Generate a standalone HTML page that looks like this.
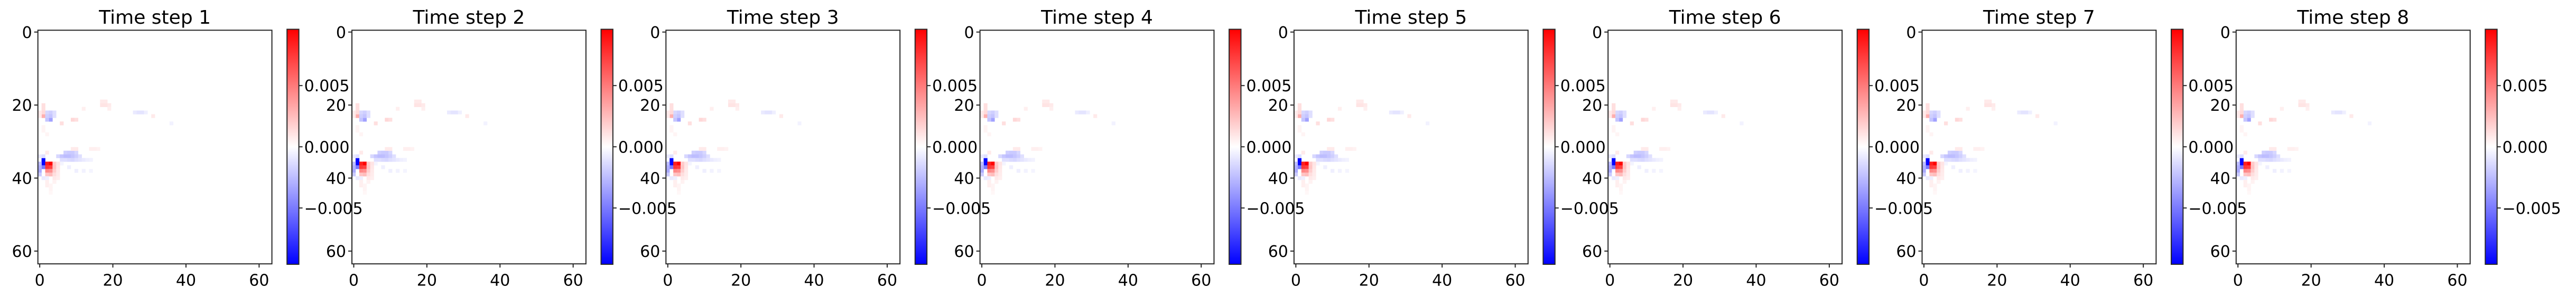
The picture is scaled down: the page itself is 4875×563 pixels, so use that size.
<!DOCTYPE html>
<html><head><meta charset="utf-8"><style>
html,body{margin:0;padding:0;background:#fff;}
svg{display:block;font-family:"DejaVu Sans","Liberation Sans",sans-serif;}
</style></head><body>
<svg id="fig" width="4875" height="563" viewBox="0 0 4875 563" xmlns="http://www.w3.org/2000/svg">
<defs>
<linearGradient id="bwr" x1="0" y1="0" x2="0" y2="1">
<stop offset="0" stop-color="#ff0000"/><stop offset="0.5" stop-color="#ffffff"/><stop offset="1" stop-color="#0000ff"/>
</linearGradient>
</defs>
<g id="marks"></g>
<g id="labels"></g>
</svg>
<script>
// ---- data ----
const stepTitles = ["Time step 1","Time step 2","Time step 3","Time step 4","Time step 5","Time step 6","Time step 7","Time step 8"];
const gridSize = 64;
const vmax = 0.0096;
const axisTicks = [0, 20, 40, 60];
const cbarTicks = [0.005, 0.0, -0.005];
const cbarTickLabels = ["0.005", "0.000", "\u22120.005"];
// sparse non-zero cells: row, col, value (shared by all steps)
const cellRows = [35,36,37,36,36,37,37,38,38,39,39,36,37,38,39,36,37,38,39,34,33,33,33,33,34,34,34,34,34,34,34,35,35,35,35,35,35,35,35,35,32,32,32,32,32,23,24,22,22,22,23,23,23,24,20,21,22,22,23,24,24,25,19,19,20,20,20,21,22,22,22,22,23,40,40,41,42,40,41,33,34,36,37,38,38,38,21,26,27,28,25,36,37,38,39,40,41,42,43,44];
const cellCols = [1,1,1,3,2,2,3,2,3,2,3,4,4,4,4,0,0,0,0,1,7,8,9,10,5,6,7,8,9,10,11,6,7,8,9,10,11,12,13,14,9,10,14,15,16,1,3,2,3,4,2,3,4,2,1,1,1,0,0,9,10,6,17,18,17,18,19,19,26,27,28,29,31,1,2,2,2,4,4,2,0,6,8,10,12,14,12,1,1,2,36,5,5,5,5,5,4,3,3,3];
const cellVals = [-0.0094,-0.0094,-0.005,0.0096,0.0085,0.0075,0.0072,0.0045,0.0042,0.0022,0.0025,0.002,0.0022,0.0018,0.0012,-0.0025,-0.003,-0.0032,-0.002,-0.0012,-0.0018,-0.002,-0.002,-0.0015,-0.0015,-0.0022,-0.0025,-0.0025,-0.0022,-0.0018,-0.0012,-0.0012,-0.0012,-0.0014,-0.0015,-0.0012,-0.001,-0.0008,-0.0006,-0.0005,0.0008,0.0008,0.0006,0.0006,0.0005,0.003,-0.0035,-0.0015,-0.0018,-0.0012,-0.0018,-0.0022,-0.0012,-0.0022,0.0012,0.0012,0.0014,0.0008,0.0008,0.0015,0.0012,0.0012,0.0008,0.0008,0.001,0.001,0.0008,0.0006,-0.0008,-0.001,-0.001,-0.0006,0.0008,-0.0008,-0.0006,0.0006,0.0006,0.0008,0.0006,0.0008,-0.0008,-0.0004,-0.0006,-0.0006,-0.0005,-0.0004,0.0006,0.0004,0.0004,0.0004,-0.0005,0.001,0.0009,0.0008,0.0007,0.0006,0.0005,0.0004,0.0004,0.0003];

// ---- layout ----
const NS = "http://www.w3.org/2000/svg";
const marks = document.getElementById("marks");
const labels = document.getElementById("labels");
const panelLeft0 = 71.7, panelStep = 594.3, axTop = 57.3, cell = 6.92;
const axSize = cell * gridSize;
const cbGap = 28.6, cbW = 22.4, cbTop = 55.5, cbBot = 501;

function mk(tag, attrs, parent) {
  const e = document.createElementNS(NS, tag);
  for (const k in attrs) e.setAttribute(k, attrs[k]);
  parent.appendChild(e);
  return e;
}
function bwr(v) {
  let t = (v + vmax) / (2 * vmax);
  t = Math.max(0, Math.min(1, t));
  let r, g, b;
  if (t < 0.5) { r = 2 * t; g = 2 * t; b = 1; } else { r = 1; g = 2 * (1 - t); b = 2 * (1 - t); }
  return `rgb(${Math.round(r*255)},${Math.round(g*255)},${Math.round(b*255)})`;
}

stepTitles.forEach((title, p) => {
  const L = panelLeft0 + p * panelStep;
  const xPos = c => L + c * cell;
  const yPos = r => axTop + r * cell;
  const g = mk("g", {}, marks);
  
  
  const tg = mk("g", {}, labels);
  
  

  const bg = mk("rect", {x: L, y: axTop, width: axSize, height: axSize, fill: bwr(0)}, g);
  
  

  for (let i = 0; i < cellVals.length; i++) {
    const rc = mk("rect", {x: xPos(cellCols[i]), y: yPos(cellRows[i]), width: cell + 0.3, height: cell + 0.3, fill: bwr(cellVals[i])}, g);
    
    
  }

  const frame = mk("rect", {x: L, y: axTop, width: axSize, height: axSize, fill: "none", stroke: "#262626", "stroke-width": 2}, g);
  
  

  const tt = mk("text", {x: L + axSize / 2, y: 45, "font-size": 36, "text-anchor": "middle", fill: "#000"}, tg);
  tt.textContent = title;
  
  

  axisTicks.forEach(t => {
    const cy = yPos(t) + cell / 2;
    mk("line", {x1: L - 7, x2: L, y1: cy, y2: cy, stroke: "#262626", "stroke-width": 2}, g);
    const yl = mk("text", {x: L - 11, y: cy + 11, "font-size": 30, "text-anchor": "end", fill: "#000"}, tg);
    yl.textContent = t;
    
    
    const cx = xPos(t) + cell / 2;
    mk("line", {x1: cx, x2: cx, y1: axTop + axSize, y2: axTop + axSize + 7, stroke: "#262626", "stroke-width": 2}, g);
    const xl = mk("text", {x: cx, y: 541.5, "font-size": 30, "text-anchor": "middle", fill: "#000"}, tg);
    xl.textContent = t;
    
    
  });

  // colorbar
  const cbX = L + axSize + cbGap;
  const cb = mk("rect", {x: cbX, y: cbTop, width: cbW, height: cbBot - cbTop, fill: "url(#bwr)", stroke: "#262626", "stroke-width": 2}, g);
  
  
  const mid = (cbTop + cbBot) / 2, half = (cbBot - cbTop) / 2;
  cbarTicks.forEach((v, i) => {
    const cy = mid - v / vmax * half;
    mk("line", {x1: cbX + cbW, x2: cbX + cbW + 7, y1: cy, y2: cy, stroke: "#262626", "stroke-width": 2}, g);
    const cl = mk("text", {x: cbX + cbW + 10, y: cy + 11, "font-size": 30, fill: "#000"}, tg);
    cl.textContent = cbarTickLabels[i];
    
    
  });
});
</script>
</body></html>
